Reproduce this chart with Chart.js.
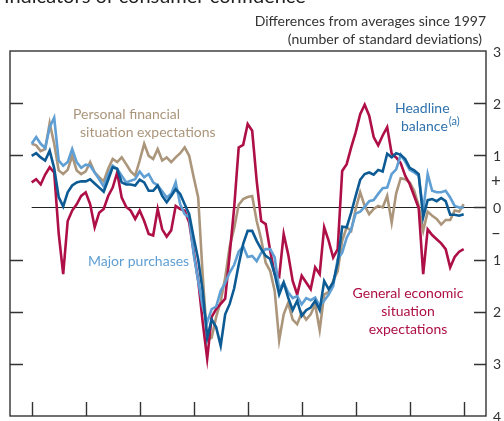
<!DOCTYPE html>
<html>
<head>
<meta charset="utf-8">
<script src="https://cdn.jsdelivr.net/npm/chart.js@4/dist/chart.umd.min.js"></script>
<style>
  html, body { margin: 0; padding: 0; background: #fff; }
  #wrap { width: 504px; height: 421px; position: relative; }
</style>
</head>
<body>
<div id="wrap"><canvas id="chart"></canvas></div>
<script>
// monthly data, Jan of first year to Jan of last year
const yearLabels = ['2005', '2006', '2007', '2008', '2009', '2010', '2011', '2012', '2013']
const months = []
for (const yr of yearLabels) {
  for (const m of ['Jan', 'Feb', 'Mar', 'Apr', 'May', 'Jun', 'Jul', 'Aug', 'Sep', 'Oct', 'Nov', 'Dec']) {
    if (months.length < 97) months.push(`${m} ${yr}`)
  }
}

const headline = [0.99, 1.04, 0.96, 0.9, 1.09, 0.75, 0.2, 0.02, 0.29, 0.42, 0.48, 0.5, 0.5, 0.54, 0.46, 0.38,
  0.3, 0.53, 0.77, 0.74, 0.48, 0.44, 0.44, 0.42, 0.53, 0.48, 0.32, 0.32, 0.42, 0.22, 0.1, 0.22, 0.35,
  0.26, 0.06, -0.13, -0.58, -1.0, -1.6, -2.5, -2.15, -2.3, -2.65, -2.05, -1.85, -1.55, -1.1, -0.7, -0.45,
  -0.45, -0.64, -0.8, -0.93, -0.99, -1.28, -1.67, -1.44, -1.73, -1.97, -1.79, -2.08, -1.97, -1.92, -1.79, -1.97, -1.41,
  -1.57, -1.44, -1.06, -0.37, -0.38, -0.1, 0.22, 0.53, 0.64, 0.67, 0.63, 0.72, 0.69, 1.03, 0.96, 1.04,
  1.01, 0.93, 0.76, 0.71, 0.64, -0.19, 0.14, 0.16, 0.12, 0.18, 0.12, -0.14, -0.14, -0.16, -0.13]

const majorPurchases = [1.22, 1.35, 1.22, 1.14, 1.54, 1.72, 0.9, 0.8, 0.87, 1.12, 0.87, 0.76, 0.82, 0.8, 0.67, 0.54,
  0.4, 0.63, 0.8, 0.74, 0.61, 0.48, 0.51, 0.54, 0.69, 0.58, 0.64, 0.48, 0.42, 0.31, 0.19, 0.26, 0.48,
  0.06, -0.13, -0.19, -0.9, -1.41, -1.9, -2.2, -1.95, -1.9, -1.6, -1.45, -1.25, -1.1, -0.85, -0.75, -0.95,
  -0.93, -1.03, -0.87, -0.8, -0.8, -0.96, -1.57, -1.44, -1.63, -1.74, -1.7, -1.86, -1.74, -1.78, -1.73, -1.89, -1.79,
  -1.67, -1.51, -0.99, -0.87, -0.58, -0.42, -0.12, -0.08, 0.01, 0.12, 0.14, 0.26, 0.37, 0.38, 0.64, 0.73,
  1.01, 0.88, 0.72, 0.67, 0.61, -0.06, 0.64, 0.32, 0.29, 0.29, 0.32, 0.19, 0.03, 0, 0]

const generalEconomic = [0.48, 0.54, 0.44, 0.63, 0.77, 0.67, -0.5, -1.28, -0.26, -0.06, 0.06, 0.22, 0.29, 0.06, -0.38, -0.1,
  -0.03, 0.22, 0.38, 0.67, 0.19, 0.01, -0.06, -0.22, -0.06, -0.26, -0.51, -0.54, -0.03, -0.42, -0.56, -0.44, 0.03,
  -0.03, -0.06, -0.29, -0.85, -1.4, -2.2, -2.9, -2.1, -1.95, -1.85, -1.75, -0.9, 0.0, 1.15, 1.2, 1.6,
  1.47, 0.51, -0.26, -0.32, -0.83, -1.28, -1.33, -0.51, -0.9, -1.41, -1.67, -1.31, -1.44, -1.57, -1.15, -1.28, -0.38,
  -0.64, -0.96, -0.8, 0.7, 0.83, 1.15, 1.44, 1.79, 1.97, 1.76, 1.35, 1.19, 1.38, 1.54, 1.03, 0.96,
  0.85, 0.61, 0.45, 0.22, -0.01, -1.28, -0.42, -0.53, -0.61, -0.69, -0.8, -1.15, -0.95, -0.85, -0.8]

const personalFinancial = [1.22, 1.19, 1.08, 1.12, 1.62, 1.22, 0.71, 0.64, 0.72, 0.99, 0.71, 0.64, 0.69, 0.87, 0.67, 0.58,
  0.5, 0.74, 0.93, 0.87, 0.96, 0.83, 0.69, 0.61, 0.9, 1.22, 0.99, 0.93, 1.12, 0.9, 0.96, 0.87, 0.96,
  1.04, 1.15, 0.99, 0.58, 0.19, -1.3, -2.55, -2.5, -2.1, -1.8, -1.35, -0.75, -0.4, 0.05, 0.16, 0.2,
  0.22, -0.26, -0.61, -1.06, -1.22, -1.6, -2.55, -2.05, -1.83, -2.15, -2.24, -2.02, -2.15, -2.05, -1.86, -2.35, -1.67,
  -1.62, -1.41, -1.22, -0.64, -0.38, -0.45, -0.03, 0.29, 0.03, -0.13, -0.03, 0.03, 0, 0.22, -0.29, 0.27,
  0.56, 0.54, 0.48, 0.32, 0.03, -0.45, -0.08, -0.16, -0.22, -0.33, -0.24, -0.24, -0.06, -0.08, 0.06]

const yTickValues = [3, 2, 1, 0, -1, -2, -3, -4]
const signMarks = [[0.5, '+'], [-0.5, '\u2013']]

const colHeadline = '#0d5b94'
const colMajor = '#5f9fd4'
const colGeneral = '#ad0f46'
const colPersonal = '#ab967c'

const FONT = 'Lato, "Open Sans", sans-serif'

function toPoints(arr) {
  return arr.map((v, i) => ({ x: i, y: v }))
}

const decorations = {
  id: 'decorations',
  beforeDatasetsDraw(chart) {
    const { ctx, chartArea: a, scales: { x, y } } = chart
    ctx.save()
    ctx.strokeStyle = '#222'
    ctx.lineWidth = 1.2
    const y0 = Math.round(y.getPixelForValue(0)) + 0.5
    ctx.beginPath()
    ctx.moveTo(x.getPixelForValue(0), y0)
    ctx.lineTo(a.right, y0)
    ctx.stroke()
    ctx.restore()
  },
  afterDatasetsDraw(chart) {
    const { ctx, chartArea: a, scales: { x, y } } = chart
    ctx.save()
    ctx.strokeStyle = '#333'
    ctx.lineWidth = 1.4
    ctx.strokeRect(a.left, a.top, a.right - a.left, a.bottom - a.top)

    ctx.beginPath()
    for (const v of yTickValues) {
      if (v === 3 || v === -4) continue
      const py = Math.round(y.getPixelForValue(v)) + 0.5
      ctx.moveTo(a.right - 12, py); ctx.lineTo(a.right, py)
      if (v !== 0) { ctx.moveTo(a.left, py); ctx.lineTo(a.left + 13, py) }
    }
    yearLabels.forEach((yr, k) => {
      const px = Math.round(x.getPixelForValue(k * 12)) + 0.5
      ctx.moveTo(px, a.bottom); ctx.lineTo(px, a.bottom - 14)
    })
    ctx.stroke()

    // right-hand axis labels
    ctx.fillStyle = '#333'
    ctx.font = `14px ${FONT}`
    ctx.textAlign = 'left'
    ctx.textBaseline = 'middle'
    for (const v of yTickValues) ctx.fillText(String(Math.abs(v)), a.right + 7, y.getPixelForValue(v) + 1)
    ctx.font = `17px ${FONT}`
    for (const [v, t] of signMarks) ctx.fillText(t, a.right + 5, y.getPixelForValue(v))

    // header
    ctx.font = `14px ${FONT}`
    ctx.textAlign = 'right'
    ctx.textBaseline = 'alphabetic'
    ctx.fillText('Differences from averages since 1997', a.right, 26)
    ctx.fillText('(number of standard deviations)', a.right - 4, 44)
    ctx.textAlign = 'left'
    ctx.fillStyle = '#222'
    ctx.font = `20px ${FONT}`
    ctx.fillText('Indicators of consumer confidence', 4, 3)

    // series labels
    ctx.font = `14px ${FONT}`
    ctx.textBaseline = 'middle'
    ctx.fillStyle = colPersonal
    ctx.fillText('Personal financial', 73, 114)
    ctx.fillText('situation expectations', 80, 132)
    ctx.fillStyle = colMajor
    ctx.fillText('Major purchases', 88, 261)
    ctx.fillStyle = '#2f72ad'
    ctx.fillText('Headline', 395, 108)
    ctx.fillText('balance', 401, 126)
    const bw = ctx.measureText('balance').width
    ctx.font = `11px ${FONT}`
    ctx.fillText('(a)', 401 + bw + 1, 121)
    ctx.font = `14px ${FONT}`
    ctx.fillStyle = colGeneral
    ctx.textAlign = 'center'
    ctx.fillText('General economic', 408, 293)
    ctx.fillText('situation', 408, 311)
    ctx.fillText('expectations', 408, 329)
    ctx.restore()
  }
}

const lineStyle = { borderWidth: 2.6, pointRadius: 0, tension: 0, fill: false }

new Chart(document.getElementById('chart'), {
  type: 'line',
  data: {
    datasets: [
      { label: 'Headline balance', data: toPoints(headline), borderColor: colHeadline, ...lineStyle },
      { label: 'Major purchases', data: toPoints(majorPurchases), borderColor: colMajor, ...lineStyle },
      { label: 'General economic situation expectations', data: toPoints(generalEconomic), borderColor: colGeneral, ...lineStyle },
      { label: 'Personal financial situation expectations', data: toPoints(personalFinancial), borderColor: colPersonal, ...lineStyle },
    ]
  },
  options: {
    responsive: true,
    maintainAspectRatio: false,
    animation: false,
    layout: { padding: { left: 10, right: 18, top: 51, bottom: 5 } },
    plugins: { legend: { display: false }, tooltip: { enabled: false } },
    scales: {
      x: { type: 'linear', min: -4.82, max: 100.96, display: false },
      y: { min: -4, max: 3, display: false }
    }
  },
  plugins: [decorations]
})
</script>
</body>
</html>
